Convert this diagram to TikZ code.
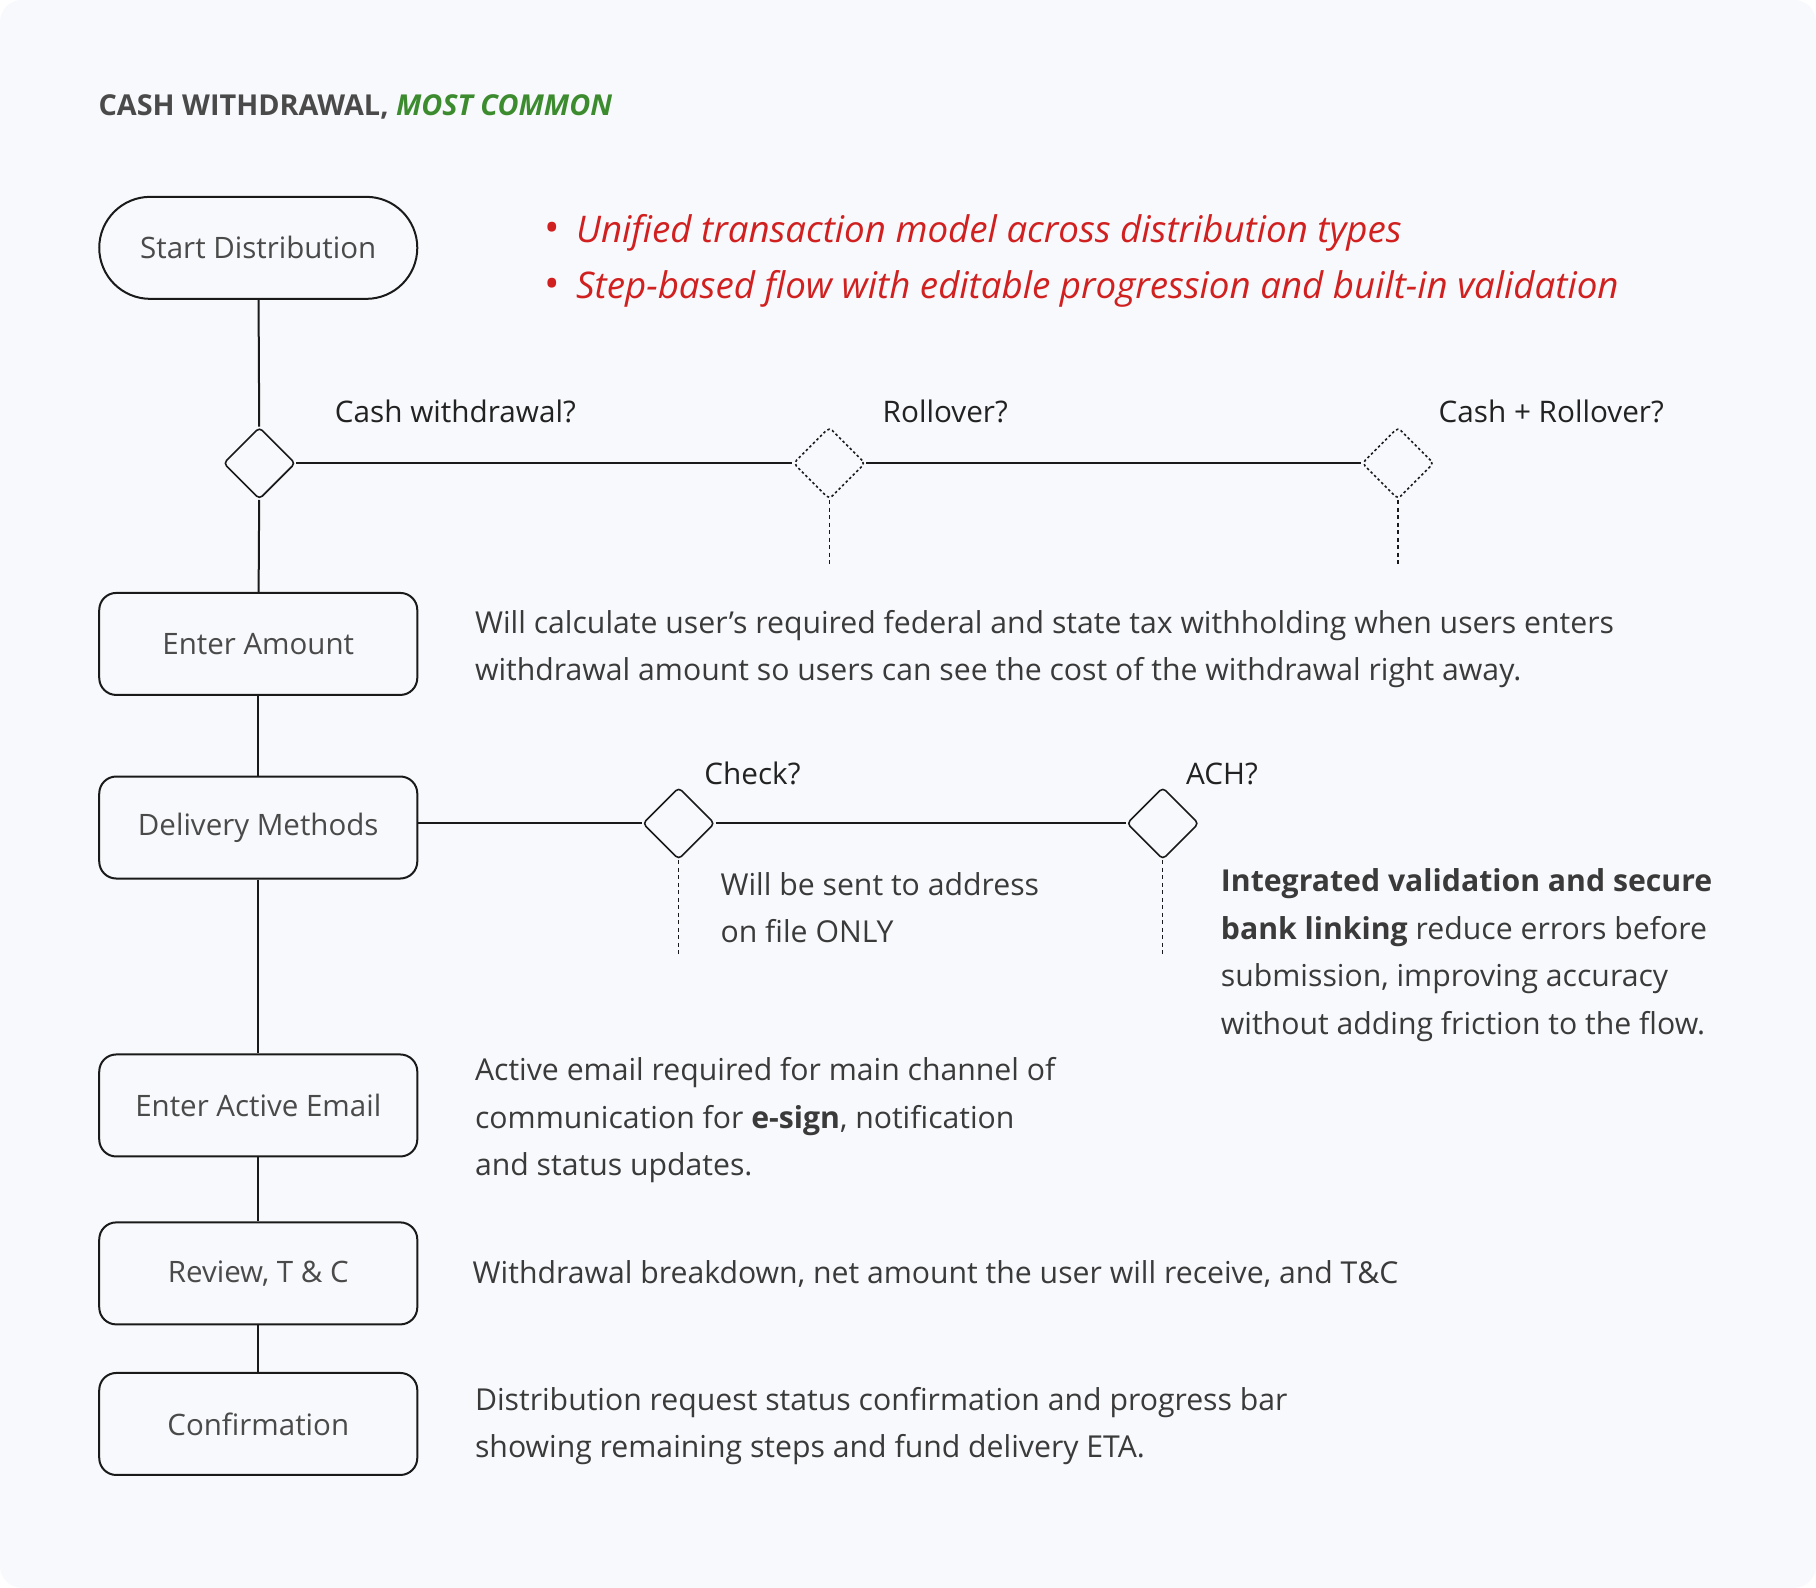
\documentclass[tikz,border=0pt]{standalone}
\usepackage{fontspec}
\setmainfont{Open Sans}
\newfontfamily\titlefont{Open Sans}
\usetikzlibrary{shapes.geometric}
\definecolor{bgc}{HTML}{F8F9FC}
\definecolor{linec}{HTML}{1A1A1A}
\definecolor{boxtext}{HTML}{4A4A4A}
\definecolor{desctext}{HTML}{3A3A3A}
\definecolor{labeltext}{HTML}{222222}
\definecolor{redc}{HTML}{D0201F}
\definecolor{greenc}{HTML}{3C8C2F}
\definecolor{titlec}{HTML}{4A4A4A}
\newcommand{\redbullet}{{\fontsize{42}{42}\selectfont\textbullet}\hspace{17pt}}
\tikzset{
  stepbox/.style={draw=linec, line width=2pt, rounded corners=17pt, minimum width=318pt, minimum height=102pt, inner sep=0pt, text=boxtext, font=\fontsize{29.5}{34}\selectfont, fill=bgc},
  startbox/.style={stepbox, rounded corners=51pt},
  dia/.style={draw=linec, diamond, aspect=1, minimum size=72pt, inner sep=0pt, line width=1.6pt, rounded corners=4pt},
  diadot/.style={dia, dash pattern=on 2.5pt off 2.5pt},
  conn/.style={draw=linec, line width=2pt},
  dotline/.style={draw=linec, line width=1.3pt, dash pattern=on 4pt off 3.5pt},
  qlabel/.style={anchor=west, inner sep=0pt, text=labeltext, font=\fontsize{29.7}{34}\selectfont},
  desc/.style={anchor=west, inner sep=0pt, align=left, text=desctext, font=\fontsize{30.2}{47.5}\selectfont},
}
\begin{document}
\begin{tikzpicture}[x=1.158pt,y=-1.158pt]
\useasboundingbox (0,0) rectangle (1568,1371);
\fill[white] (0,0) rectangle (1568,1371);
\fill[bgc, rounded corners=22pt] (0,0) rectangle (1568,1371);

% title
\node[anchor=base west, inner sep=0pt, font=\titlefont\bfseries\fontsize{28.8}{32}\selectfont, text=titlec] (title) at (85,100) {CASH WITHDRAWAL, \textcolor{greenc}{\itshape MOST COMMON}};

% red notes
\node[anchor=west, inner sep=0pt, align=left, text=redc, font=\itshape\fontsize{36.7}{55.6}\selectfont] (notes) at (469,225) {\redbullet Unified transaction model across distribution types\\\redbullet Step-based flow with editable progression and built-in validation};

% main steps
\node[startbox] (start) at (223,214) {Start Distribution};
\node[dia] (d1) at (224,400) {};
\node[diadot] (d2) at (716,400) {};
\node[diadot] (d3) at (1207,400) {};
\node[stepbox] (amount) at (223,556) {Enter Amount};
\node[stepbox] (delivery) at (223,714.5) {Delivery Methods};
\node[dia] (check) at (586,711) {};
\node[dia] (ach) at (1004,711) {};
\node[stepbox] (email) at (223,954.5) {Enter Active Email};
\node[stepbox] (review) at (223,1099.5) {Review, T \& C};
\node[stepbox] (confirm) at (223,1229.5) {Confirmation};

\coordinate (d2end) at (716,487);
\coordinate (d3end) at (1207,487);
\coordinate (checkend) at (586,826);
\coordinate (achend) at (1004,824);

% connectors
\draw[conn] (start) -- (d1);
\draw[conn] (d1) -- (d2);
\draw[conn] (d2) -- (d3);
\draw[dotline] (d2.south) -- (d2end);
\draw[dotline] (d3.south) -- (d3end);
\draw[conn] (d1) -- (amount);
\draw[conn] (amount) -- (delivery);
\draw[conn] (delivery.east |- check.west) -- (check.west);
\draw[conn] (check) -- (ach);
\draw[dotline] (check.south) -- (checkend);
\draw[dotline] (ach.south) -- (achend);
\draw[conn] (delivery) -- (email);
\draw[conn] (email) -- (review);
\draw[conn] (review) -- (confirm);

% labels
\node[qlabel] (lcash) at (289,355) {Cash withdrawal?};
\node[qlabel] (lroll) at (762,355) {Rollover?};
\node[qlabel] (lboth) at (1242,355) {Cash + Rollover?};
\node[qlabel] (lcheck) at (608,668) {Check?};
\node[qlabel] (lach) at (1024,668) {ACH?};

% descriptions
\node[desc] (damount) at (410,560.5) {Will calculate user’s required federal and state tax withholding when users enters\\withdrawal amount so users can see the cost of the withdrawal right away.};
\node[desc] (dcheck) at (622,783.5) {Will be sent to address\\on file ONLY};
\node[desc] (dach) at (1054,824.5) {\textbf{Integrated validation and secure}\\\textbf{bank linking} reduce errors before\\submission, improving accuracy\\without adding friction to the flow.};
\node[desc] (demail) at (410,967.5) {Active email required for main channel of\\communication for \textbf{e-sign}, notification\\and status updates.};
\node[desc] (dreview) at (408,1100) {Withdrawal breakdown, net amount the user will receive, and T\&C};
\node[desc] (dconfirm) at (410,1231.5) {Distribution request status confirmation and progress bar\\showing remaining steps and fund delivery ETA.};
\end{tikzpicture}
\end{document}
